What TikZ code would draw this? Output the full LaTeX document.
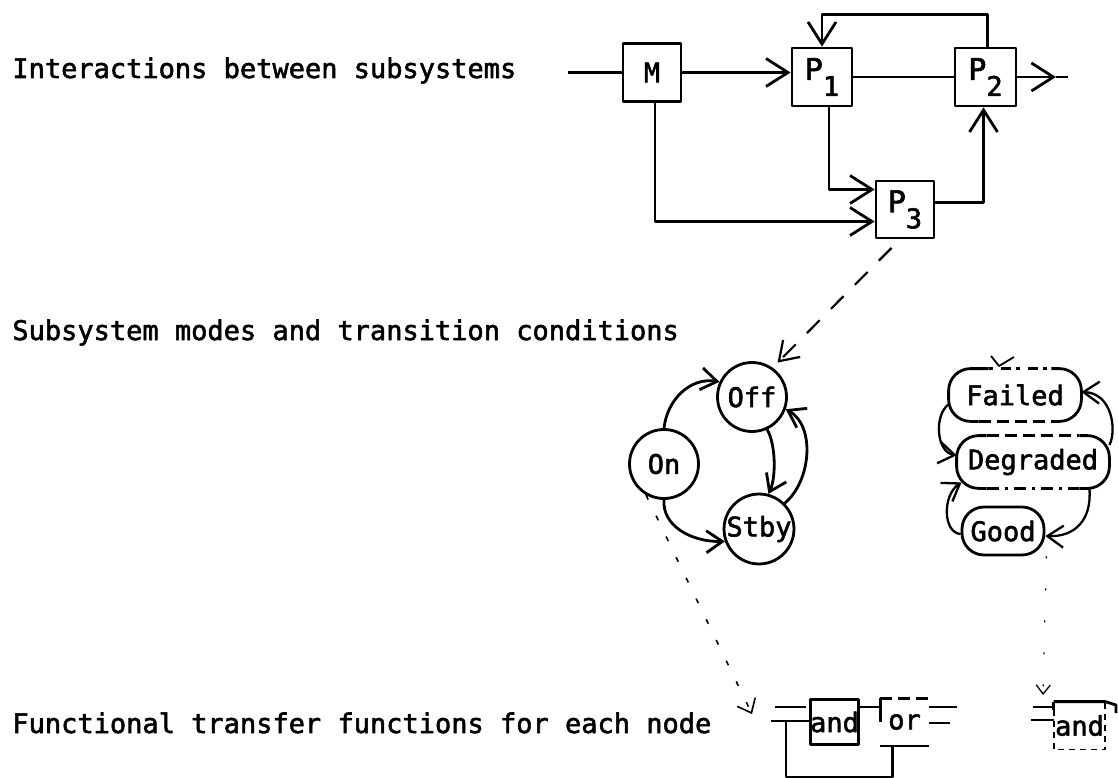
\documentclass[tikz,border=0pt]{standalone}
\usepackage{fontspec}
\setmainfont{DejaVu Sans Mono}[BoldFont={DejaVu Sans Mono},BoldFeatures={FakeBold=2}]
\usetikzlibrary{arrows.meta,calc}
\newcommand{\Plab}[1]{{\fontsize{30}{30}\selectfont P}\raisebox{-16pt}{\fontsize{27}{27}\selectfont #1}}
\begin{document}
\begin{tikzpicture}[x=1pt,y=-1pt, line width=2.8pt, line join=round,
  txt/.style={font=\fontsize{27}{32}\selectfont\bfseries},
  lab/.style={txt, anchor=base west, inner sep=0pt},
  blk/.style={draw, inner sep=0pt, minimum height=58pt, txt},
  st/.style={draw, circle, inner sep=0pt, minimum size=69pt, txt},
  rr/.style={rounded corners=22pt, inner sep=0pt, minimum height=50pt, txt},
  gate/.style={inner sep=0pt, minimum width=46pt, minimum height=45pt, txt},
  arr/.style={-{Straight Barb[length=22pt,width=28pt]}},
  sarr/.style={-{Straight Barb[length=16pt,width=22pt]}},
  longdash/.style={dash pattern=on 18pt off 16pt, line width=2.2pt},
  dotsparse/.style={dash pattern=on 5pt off 18pt, line width=1.6pt},
  dotfaint/.style={dash pattern=on 2pt off 30pt, line width=1.3pt},
  edgedash/.style={dash pattern=on 12pt off 6pt},
  edgedashdot/.style={dash pattern=on 12pt off 6pt on 3pt off 6pt},
  ]
\useasboundingbox (0,0) rectangle (1118,778);
\fill[white] (0,0) rectangle (1118,778);

% ---- captions
\node[lab] (t1) at (11,78) {Interactions between subsystems};
\node[lab] (t2) at (11,340) {Subsystem modes and transition conditions};
\node[lab] (t3) at (11,733) {Functional transfer functions for each node};

% ---- block diagram
\node[blk, minimum width=58pt] (M) at (652,72.5) {M};
\node[blk, minimum width=60pt] (P1) at (822,77) {\Plab{1}};
\node[blk, minimum width=61pt] (P2) at (985.5,77) {\Plab{2}};
\node[blk, minimum width=58pt, minimum height=57pt] (P3) at (905,209.5) {\Plab{3}};

\coordinate (in) at (568,72.5);
\coordinate (otip) at (1056,77);
\coordinate (oend) at (1068,77);
\draw (in) -- (M.west);
\draw[arr] (M.east) -- (M.east -| P1.west);
\draw (P1.east) -- (P2.west);
\draw[arr] (P2.east) -- (otip);
\draw (otip) -- (oend);
\draw[arr] ([xshift=2pt]P2.north) -- ++(0,-32) -| (P1.north);
\draw[arr] ([xshift=7pt]P1.south) |- ([yshift=20pt]P3.west);
\draw[arr] ([xshift=3pt]M.south) |- ([yshift=-12pt]P3.west);
\draw[arr] ([yshift=7pt]P3.east) -| ([xshift=-2pt]P2.south);

% ---- mode machine 1
\node[st] (Off) at (752,397) {Off};
\node[st] (On) at (664,464) {On};
\node[st] (Stby) at (759,529) {Stby};
\draw[sarr] (On.north) .. controls (667,400) and (690,377) .. (Off.155);
\draw[sarr] (On.south) .. controls (662,525) and (690,542) .. (Stby.200);
\draw[sarr] (Off.295) .. controls (776,445) and (776,478) .. (Stby.75);
\draw[sarr] (Stby.45) .. controls (812,480) and (815,425) .. (Off.340);

\draw[longdash, -{Straight Barb[length=18pt,width=24pt]}, shorten <=12pt, shorten >=7pt]
  ([xshift=-5pt]P3.south) -- (Off.55);

% ---- mode machine 2
\node[rr, minimum width=130pt] (F) at (1015,395) {Failed};
\node[rr, minimum width=150pt] (D) at (1033,462) {Degraded};
\node[rr, draw, minimum width=82pt, minimum height=48pt] (G) at (1003,531) {Good};

\draw[rounded corners=22pt] ([xshift=40pt]F.north west) -- (F.north west) -- (F.south west) -- ([xshift=30pt]F.south west);
\draw[rounded corners=22pt] ([xshift=-30pt]F.north east) -- (F.north east) -- (F.south east) -- ([xshift=-30pt]F.south east);
\draw[dash pattern=on 4pt off 8pt on 10pt off 5pt] ([xshift=40pt]F.north west) -- ([xshift=-30pt]F.north east);
\draw[edgedash] ([xshift=30pt]F.south west) -- ([xshift=-30pt]F.south east);
\draw[line width=1.8pt] (991,356) -- (999,366) -- (1014,357);

\draw[rounded corners=22pt] ([xshift=30pt]D.north west) -- (D.north west) -- (D.south west) -- ([xshift=30pt]D.south west);
\draw[rounded corners=22pt] ([xshift=-30pt]D.north east) -- (D.north east) -- (D.south east) -- ([xshift=-30pt]D.south east);
\draw[edgedash] ([xshift=30pt]D.north west) -- ([xshift=-30pt]D.north east);
\draw[edgedashdot] ([xshift=30pt]D.south west) -- ([xshift=-30pt]D.south east);

\begin{scope}[line width=2.3pt]
\draw[sarr] (F.188) .. controls (934,415) and (936,452) .. (D.175);
\draw[sarr] ([yshift=17pt]D.east) .. controls (1117,430) and (1112,393) .. ([yshift=3pt]F.east);
\draw[sarr] ([yshift=-3pt]G.west) .. controls (943,533) and (942,495) .. ([xshift=5pt,yshift=6pt]D.south west);
\draw[sarr] ([xshift=-20pt]D.south east) .. controls (1092,520) and (1075,537) .. ([yshift=-5pt]G.east);
\end{scope}

% ---- transfer functions
\node[gate, draw] (A) at (834.5,722) {and};
\node[gate] (B) at (904.5,722) {or};
\node[gate] (C) at (1079.5,725.5) {and};

\draw[edgedash] (B.north west) -- (B.north east);
\draw (B.north west) -- (B.west);
\draw (B.south west) -- (B.south east);

\coordinate (cend) at (1116,705);
\draw (C.north west) -- (C.north east) -- (cend) -- ++(0,8);
\draw (C.north west) -- ++(0,8);
\draw[dash pattern=on 6pt off 5pt, line width=1.8pt] ([yshift=-8pt]C.north west) -- (C.south west) -- (C.south east) -- (C.north east);

\coordinate (a1) at (775,707);
\coordinate (a2) at (771,721);
\coordinate (fb) at (786,721);
\draw (a1) -- ++(31,0);
\draw (a2) -- (a2 -| A.west);
\draw ([yshift=15pt]A.east) -- ([yshift=15pt]B.west);
\draw ([yshift=15pt]B.east) -- ++(28,0);
\draw ([yshift=-1pt]B.east) -- ++(21,0);
\draw (fb) |- ([xshift=-12pt,yshift=-31pt]B.south) -- ([xshift=-12pt]B.south);

\coordinate (c1) at (1033,707);
\coordinate (c2) at (1031,720);
\draw (c1) -- (c1 -| C.west);
\draw (c2) -- (c2 -| C.west);

\coordinate (ckA) at (752,714);
\coordinate (ckC) at (1043,695);
\draw[dotsparse, -{Straight Barb[length=12pt,width=20pt]}] (On.240) -- (ckA);
\draw[dotfaint, -{Straight Barb[length=9pt,width=14pt]}] ([xshift=1pt]G.south east) -- (ckC);
\end{tikzpicture}
\end{document}
